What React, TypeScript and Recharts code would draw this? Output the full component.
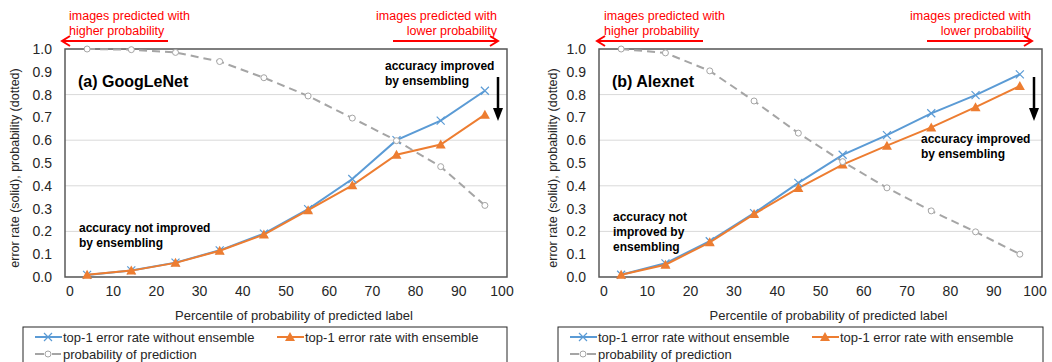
import { LineChart, Line, XAxis, YAxis, CartesianGrid, ReferenceArea } from 'recharts'

const percentiles = [5, 15, 25, 35, 45, 55, 65, 75, 85, 95]
const xTicks = [0, 10, 20, 30, 40, 50, 60, 70, 80, 90, 100]
const yTicks = [0, 0.1, 0.2, 0.3, 0.4, 0.5, 0.6, 0.7, 0.8, 0.9, 1.0]

const googWithout = [0.009, 0.029, 0.063, 0.117, 0.19, 0.298, 0.43, 0.6, 0.686, 0.817]
const googWith = [0.01, 0.028, 0.062, 0.115, 0.186, 0.293, 0.402, 0.536, 0.581, 0.712]
const googProb = [1.0, 0.997, 0.985, 0.945, 0.874, 0.794, 0.697, 0.598, 0.484, 0.314]

const alexWithout = [0.01, 0.06, 0.157, 0.28, 0.413, 0.536, 0.622, 0.718, 0.798, 0.889]
const alexWith = [0.01, 0.054, 0.152, 0.276, 0.39, 0.493, 0.576, 0.656, 0.745, 0.838]
const alexProb = [1.0, 0.983, 0.904, 0.772, 0.631, 0.506, 0.391, 0.29, 0.198, 0.1]

const BLUE = '#5B9BD5'
const ORANGE = '#ED7D31'
const GRAY = '#A5A5A5'
const RED = '#FF0000'
const FONT = '"Liberation Sans", Arial, sans-serif'

const build = (a: number[], b: number[], c: number[]) =>
  percentiles.map((x, i) => ({ x, without: a[i], withE: b[i], prob: c[i] }))

const CrossDot = (p: any) => {
  const { cx, cy } = p
  if (cx == null || cy == null) return null
  const s = 4
  return (
    <path
      d={`M${cx - s},${cy - s}L${cx + s},${cy + s}M${cx - s},${cy + s}L${cx + s},${cy - s}`}
      stroke={BLUE}
      strokeWidth={1.2}
      fill="none"
    />
  )
}

const TriDot = (p: any) => {
  const { cx, cy } = p
  if (cx == null || cy == null) return null
  return <polygon points={`${cx},${cy - 5} ${cx + 5},${cy + 4} ${cx - 5},${cy + 4}`} fill={ORANGE} />
}

const CircleDot = (p: any) => {
  const { cx, cy } = p
  if (cx == null || cy == null) return null
  return <circle cx={cx} cy={cy} r={3} fill="#fff" stroke={GRAY} strokeWidth={1} />
}

// Excel pulls the end labels slightly inward
const XTick = (p: any) => {
  const { x, y, payload } = p
  const shift = 5 - payload.value * 0.1
  return (
    <text x={x + shift} y={y} dy="0.71em" textAnchor="middle" fontSize={14} fill="#262626" fontFamily={FONT}>
      {payload.value}
    </text>
  )
}

interface PanelProps {
  data: { x: number; without: number; withE: number; prob: number }[]
  left: number
  width: number
  yAxisWidth: number
  marginRight: number
}

function Panel({ data, left, width, yAxisWidth, marginRight }: PanelProps) {
  return (
    <div style={{ position: 'absolute', left, top: 0 }}>
      <LineChart
        width={width}
        height={362}
        data={data}
        margin={{ top: 49, right: marginRight, left: 0, bottom: 42 }}
      >
        <CartesianGrid vertical={false} stroke="#D9D9D9" strokeWidth={1} />
        <ReferenceArea x1={0} x2={100} y1={0} y2={1} fill="none" stroke="#595959" strokeWidth={1.5} />
        <XAxis
          dataKey="x"
          type="number"
          domain={[0, 100]}
          ticks={xTicks}
          axisLine={false}
          tickLine={false}
          tickSize={0}
          tickMargin={9}
          height={43}
          tick={<XTick />}
          label={{
            value: 'Percentile of probability of predicted label',
            position: 'insideBottom',
            offset: 0,
            dx: 8,
            style: { fontSize: 13, fill: '#262626', fontFamily: FONT },
          }}
        />
        <YAxis
          type="number"
          domain={[0, 1]}
          ticks={yTicks}
          width={yAxisWidth}
          axisLine={false}
          tickLine={false}
          tickSize={0}
          tickMargin={13}
          tickFormatter={(v: number) => v.toFixed(1)}
          tick={{ fontSize: 14, fill: '#262626', fontFamily: FONT }}
        />
        <Line
          dataKey="without"
          stroke={BLUE}
          strokeWidth={2}
          dot={CrossDot}
          activeDot={false}
          isAnimationActive={false}
        />
        <Line
          dataKey="withE"
          stroke={ORANGE}
          strokeWidth={2}
          dot={TriDot}
          activeDot={false}
          isAnimationActive={false}
        />
        <Line
          dataKey="prob"
          stroke={GRAY}
          strokeWidth={2}
          strokeDasharray="8 5"
          dot={CircleDot}
          activeDot={false}
          isAnimationActive={false}
        />
      </LineChart>
    </div>
  )
}

function LegendBox({ left, width }: { left: number; width: number }) {
  const item = (x: number, y: number, icon: 'x' | 'tri' | 'o', text: string) => (
    <g>
      {icon === 'o' ? (
        <line x1={x} y1={y} x2={x + 26} y2={y} stroke={GRAY} strokeWidth={2} strokeDasharray="9 8" />
      ) : (
        <line x1={x} y1={y} x2={x + 27} y2={y} stroke={icon === 'x' ? BLUE : ORANGE} strokeWidth={2} />
      )}
      {icon === 'x' && <CrossDot cx={x + 13} cy={y} />}
      {icon === 'tri' && <TriDot cx={x + 13} cy={y} />}
      {icon === 'o' && <CircleDot cx={x + 13} cy={y} />}
      <text x={x + 28} y={y} dominantBaseline="central" fontSize={13} fill="#262626" fontFamily={FONT}>
        {text}
      </text>
    </g>
  )
  return (
    <g>
      <rect x={left} y={327} width={width} height={60} fill="#fff" stroke="#262626" strokeWidth={1} />
      {item(left + 12, 337, 'x', 'top-1 error rate without ensemble')}
      {item(left + 254, 337, 'tri', 'top-1 error rate with ensemble')}
      {item(left + 12, 354, 'o', 'probability of prediction')}
    </g>
  )
}

const redText = { fontSize: 12.5, fill: RED, fontFamily: FONT }
const boldText = { fontSize: 12, fill: '#000', fontFamily: FONT, fontWeight: 700 }

function Overlay() {
  const redArrow = (x1: number, x2: number, dir: 'l' | 'r') => {
    const hx = dir === 'l' ? x1 : x2
    const s = dir === 'l' ? 1 : -1
    return (
      <g stroke={RED} strokeWidth={2} fill="none">
        <line x1={x1} y1={41} x2={x2} y2={41} />
        <polyline points={`${hx + s * 8},${36} ${hx},${41} ${hx + s * 8},${46}`} />
      </g>
    )
  }
  const downArrow = (x: number) => (
    <g>
      <line x1={x} y1={77} x2={x} y2={112} stroke="#000" strokeWidth={2.5} />
      <polygon points={`${x - 5},${108} ${x + 5},${108} ${x},${121}`} fill="#000" />
    </g>
  )
  const t = (x: number, y: number, s: string, style: any, anchor = 'start') => (
    <text x={x} y={y} dominantBaseline="central" textAnchor={anchor} style={style}>
      {s}
    </text>
  )
  const yLabel = (x: number) => (
    <text
      x={x}
      y={168}
      transform={`rotate(-90, ${x}, 168)`}
      textAnchor="middle"
      dominantBaseline="central"
      style={{ fontSize: 12.5, fill: '#262626', fontFamily: FONT }}
    >
      error rate (solid),  probability (dotted)
    </text>
  )
  return (
    <svg width={1052} height={362} style={{ position: 'absolute', left: 0, top: 0, pointerEvents: 'none' }}>
      {/* left panel */}
      {t(69, 16, 'images predicted with', redText)}
      {t(69, 31, 'higher probability', redText)}
      {t(497, 16, 'images predicted with', redText, 'end')}
      {t(497, 31, 'lower probability', redText, 'end')}
      {redArrow(62, 168, 'l')}
      {redArrow(393, 498, 'r')}
      {t(78, 81, '(a) GoogLeNet', { ...boldText, fontSize: 16 })}
      {t(385, 66, 'accuracy improved', boldText)}
      {t(385, 81, 'by ensembling', boldText)}
      {downArrow(498)}
      {t(79, 228, 'accuracy not improved', boldText)}
      {t(79, 243, 'by ensembling', boldText)}
      {yLabel(15)}
      <LegendBox left={23} width={484} />

      {/* right panel */}
      {t(604, 16, 'images predicted with', redText)}
      {t(604, 31, 'higher probability', redText)}
      {t(1031, 16, 'images predicted with', redText, 'end')}
      {t(1031, 31, 'lower probability', redText, 'end')}
      {redArrow(597, 703, 'l')}
      {redArrow(927, 1032, 'r')}
      {t(612, 81, '(b) Alexnet', { ...boldText, fontSize: 16 })}
      {t(921, 139, 'accuracy improved', boldText)}
      {t(921, 154, 'by ensembling', boldText)}
      {downArrow(1034)}
      {t(613, 217, 'accuracy not', boldText)}
      {t(613, 232, 'improved by', boldText)}
      {t(613, 247, 'ensembling', boldText)}
      {yLabel(553)}
      <LegendBox left={558} width={485} />
    </svg>
  )
}

export default function App() {
  return (
    <div
      style={{
        position: 'absolute',
        left: 0,
        top: 0,
        width: 1052,
        height: 362,
        background: '#fff',
        overflow: 'hidden',
        fontFamily: FONT,
      }}
    >
      <Panel data={build(googWithout, googWith, googProb)} left={0} width={526} yAxisWidth={65} marginRight={19} />
      <Panel data={build(alexWithout, alexWith, alexProb)} left={530} width={522} yAxisWidth={69} marginRight={10} />
      <Overlay />
    </div>
  )
}
